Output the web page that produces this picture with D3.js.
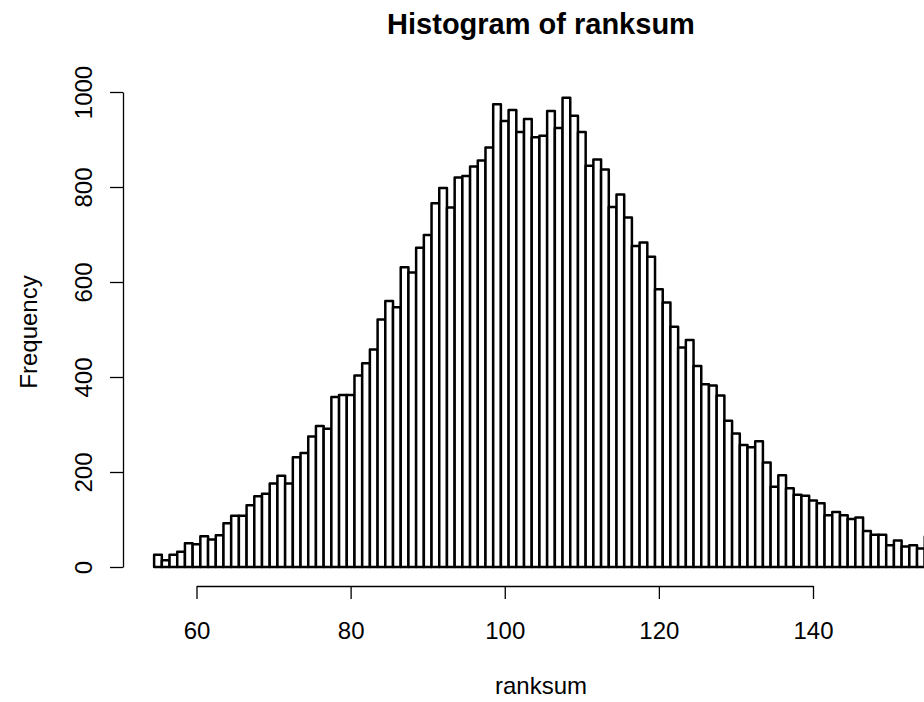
<!DOCTYPE html>
<html>
<head>
<meta charset="utf-8">
<script src="https://cdn.jsdelivr.net/npm/d3@7"></script>
<style>
  html, body { margin: 0; padding: 0; background: #ffffff; }
  svg { display: block; }
  text { font-family: "Liberation Sans", Arial, Helvetica, sans-serif; fill: #000; }
</style>
</head>
<body>
<svg id="chart" width="924" height="702"></svg>
<script>
// ---- Data ----
const title = "Histogram of ranksum";
const xLabel = "ranksum";
const yLabel = "Frequency";

// centre value of each histogram bin (bins are 1 wide)
const binCentres = [
  55, 56, 57, 58, 59, 60, 61, 62, 63, 64,
  65, 66, 67, 68, 69, 70, 71, 72, 73, 74,
  75, 76, 77, 78, 79, 80, 81, 82, 83, 84,
  85, 86, 87, 88, 89, 90, 91, 92, 93, 94,
  95, 96, 97, 98, 99, 100, 101, 102, 103, 104,
  105, 106, 107, 108, 109, 110, 111, 112, 113, 114,
  115, 116, 117, 118, 119, 120, 121, 122, 123, 124,
  125, 126, 127, 128, 129, 130, 131, 132, 133, 134,
  135, 136, 137, 138, 139, 140, 141, 142, 143, 144,
  145, 146, 147, 148, 149, 150, 151, 152, 153, 154,
  155
];

// frequency of each bin
const frequencies = [
  26, 14, 26, 32, 50, 48, 65, 58, 67, 92,
  108, 108, 130, 149, 154, 176, 192, 176, 231, 240,
  275, 297, 291, 358, 362, 362, 403, 429, 458, 521,
  560, 547, 631, 620, 672, 699, 766, 798, 757, 820,
  823, 843, 856, 883, 974, 939, 962, 916, 943, 905,
  908, 960, 924, 988, 950, 916, 845, 858, 837, 758,
  784, 736, 676, 683, 653, 585, 557, 506, 462, 478,
  423, 385, 382, 361, 308, 281, 257, 252, 265, 220,
  169, 193, 166, 152, 150, 140, 134, 109, 116, 109,
  101, 104, 76, 68, 68, 46, 56, 43, 46, 39,
  64
];

const xTicks = [60, 80, 100, 120, 140];
const yTicks = [0, 200, 400, 600, 800, 1000];

// ---- Layout ----
const svg = d3.select("#chart");
const xAxisY = 586;     // position of the x-axis line
const yAxisX = 123;     // position of the y-axis line
const plotCentreX = 541;
const plotCentreY = 332;

const x = d3.scaleLinear().domain([60, 140]).range([196.5, 813]);
const y = d3.scaleLinear().domain([0, 1000]).range([567, 92]);

const data = binCentres.map((c, i) => ({ c: c, f: frequencies[i] }));

// ---- Bars ----
svg.append("g")
  .selectAll("rect")
  .data(data)
  .join("rect")
  .attr("x", d => x(d.c - 0.5))
  .attr("width", d => x(d.c + 0.5) - x(d.c - 0.5))
  .attr("y", d => y(d.f))
  .attr("height", d => y(0) - y(d.f))
  .attr("fill", "#ffffff")
  .attr("stroke", "#000000")
  .attr("stroke-width", 2.5)
  .attr("stroke-linejoin", "round");

// ---- X axis ----
const gx = svg.append("g")
  .attr("transform", `translate(0,${xAxisY})`)
  .call(d3.axisBottom(x).tickValues(xTicks).tickSize(13).tickSizeOuter(0).tickFormat(d3.format("d")));
gx.select(".domain").attr("stroke", "#000").attr("stroke-width", 1.3);
gx.selectAll(".tick line").attr("stroke", "#000").attr("stroke-width", 1.3);
gx.selectAll(".tick text")
  .attr("y", 53)
  .attr("dy", null)
  .attr("font-size", 24)
  .attr("font-family", "Liberation Sans, Arial, sans-serif")
  .attr("fill", "#000");

// ---- Y axis ----
const gy = svg.append("g")
  .attr("transform", `translate(${yAxisX},0)`)
  .call(d3.axisLeft(y).tickValues(yTicks).tickSize(13).tickSizeOuter(0).tickFormat(d3.format("d")));
gy.select(".domain").attr("stroke", "#000").attr("stroke-width", 1.3);
gy.selectAll(".tick line").attr("stroke", "#000").attr("stroke-width", 1.3);
gy.selectAll(".tick text")
  .attr("x", null)
  .attr("y", null)
  .attr("dy", null)
  .attr("text-anchor", "middle")
  .attr("transform", "translate(-31,0) rotate(-90)")
  .attr("font-size", 24)
  .attr("font-family", "Liberation Sans, Arial, sans-serif")
  .attr("fill", "#000");

// ---- Titles ----
svg.append("text")
  .attr("x", plotCentreX)
  .attr("y", 34)
  .attr("text-anchor", "middle")
  .attr("font-size", 29)
  .attr("font-weight", "bold")
  .text(title);

svg.append("text")
  .attr("x", plotCentreX)
  .attr("y", 694)
  .attr("text-anchor", "middle")
  .attr("font-size", 24)
  .text(xLabel);

svg.append("text")
  .attr("transform", `translate(37,${plotCentreY}) rotate(-90)`)
  .attr("text-anchor", "middle")
  .attr("font-size", 24)
  .text(yLabel);
</script>
</body>
</html>
